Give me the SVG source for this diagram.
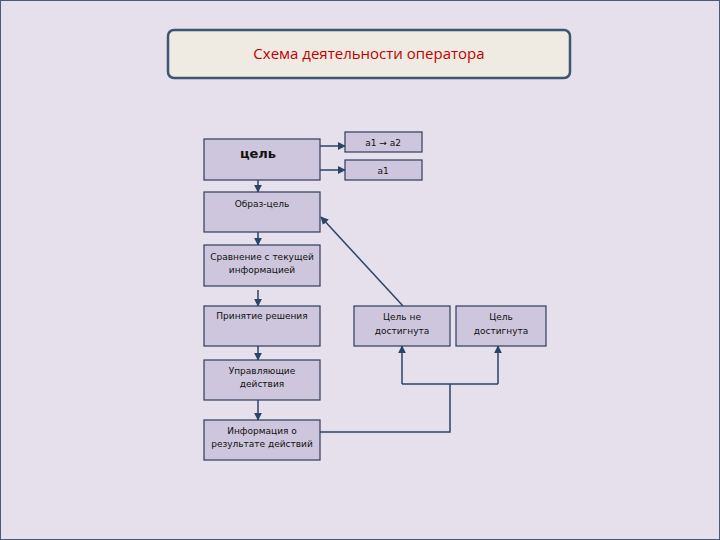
<svg xmlns="http://www.w3.org/2000/svg" width="720" height="540" viewBox="0 0 720 540">
<defs>
<style>
.node{fill:#cdc6dc;stroke:#2f3d5c;stroke-width:1.2}
.t{font-family:"DejaVu Sans",sans-serif;font-size:9px;fill:#111;text-anchor:middle}
.c{fill:none;stroke:#2b4468;stroke-width:1.5}
</style>
<marker id="ah2" viewBox="0 0 10 10" refX="9" refY="5" markerWidth="8" markerHeight="8" orient="auto" markerUnits="userSpaceOnUse">
<path d="M0,0 L10,5 L0,10 z" fill="#2b4468"/>
</marker>
</defs>
<rect x="0" y="0" width="720" height="540" fill="#e6dfec"/>
<rect x="0.5" y="0.5" width="719" height="539" fill="none" stroke="#4a5a7a" stroke-width="1"/>
<g id="title">
<rect x="168" y="30" width="402" height="48" rx="6" fill="#efebe3" stroke="#3f5570" stroke-width="2.5"/>
<text x="369" y="59" font-family="'Open Sans',sans-serif" font-size="15" fill="#c00000" text-anchor="middle">Схема деятельности оператора</text>
</g>
<g id="connectors">
<line class="c" x1="320" y1="146" x2="345" y2="146" marker-end="url(#ah2)"/>
<line class="c" x1="320" y1="170" x2="345" y2="170" marker-end="url(#ah2)"/>
<line class="c" x1="258" y1="180" x2="258" y2="192" marker-end="url(#ah2)"/>
<line class="c" x1="258" y1="232" x2="258" y2="245" marker-end="url(#ah2)"/>
<line class="c" x1="258" y1="290" x2="258" y2="306" marker-end="url(#ah2)"/>
<line class="c" x1="258" y1="346" x2="258" y2="360" marker-end="url(#ah2)"/>
<line class="c" x1="258" y1="400" x2="258" y2="420" marker-end="url(#ah2)"/>
<line class="c" x1="403" y1="306" x2="321" y2="217" marker-end="url(#ah2)"/>
<polyline class="c" points="320,432 450,432 450,384"/>
<line class="c" x1="402" y1="384" x2="498" y2="384"/>
<line class="c" x1="402" y1="384" x2="402" y2="346" stroke-width="2.5" marker-end="url(#ah2)"/>
<line class="c" x1="498" y1="384" x2="498" y2="346" stroke-width="2.5" marker-end="url(#ah2)"/>
</g>
<g id="goal">
<rect class="node" x="204" y="139" width="116" height="41"/>
<text x="258" y="158" font-family="'DejaVu Sans',sans-serif" font-size="13" font-weight="bold" fill="#111" text-anchor="middle">цель</text>
</g>
<g id="a1a2">
<rect class="node" x="345" y="132" width="77" height="20"/>
<text class="t" x="383" y="146">а1 → а2</text>
</g>
<g id="a1">
<rect class="node" x="345" y="160" width="77" height="20"/>
<text class="t" x="383" y="174">а1</text>
</g>
<g id="image-goal">
<rect class="node" x="204" y="192" width="116" height="40"/>
<text class="t" x="262" y="207">Образ-цель</text>
</g>
<g id="compare">
<rect class="node" x="204" y="245" width="116" height="41"/>
<text class="t" x="262" y="260">Сравнение с текущей</text>
<text class="t" x="262" y="273">информацией</text>
</g>
<g id="decision">
<rect class="node" x="204" y="306" width="116" height="40"/>
<text class="t" x="262" y="319">Принятие решения</text>
</g>
<g id="control">
<rect class="node" x="204" y="360" width="116" height="40"/>
<text class="t" x="262" y="374">Управляющие</text>
<text class="t" x="262" y="387">действия</text>
</g>
<g id="info">
<rect class="node" x="204" y="420" width="116" height="40"/>
<text class="t" x="262" y="434">Информация о</text>
<text class="t" x="262" y="447">результате действий</text>
</g>
<g id="not-reached">
<rect class="node" x="354" y="306" width="96" height="40"/>
<text class="t" x="402" y="320">Цель не</text>
<text class="t" x="402" y="334">достигнута</text>
</g>
<g id="reached">
<rect class="node" x="456" y="306" width="90" height="40"/>
<text class="t" x="501" y="320">Цель</text>
<text class="t" x="501" y="334">достигнута</text>
</g>
</svg>
